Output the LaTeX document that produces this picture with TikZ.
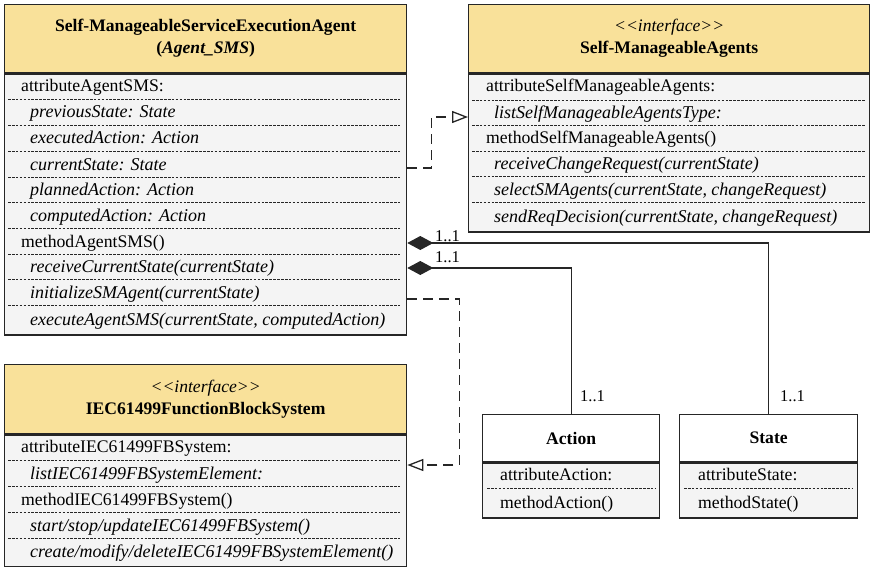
\documentclass[tikz,border=0pt]{standalone}
\usepackage{fontspec}
\setmainfont{Liberation Serif}
\usetikzlibrary{arrows.meta,calc}
\definecolor{hdrfill}{HTML}{F9E19A}
\definecolor{bodyfill}{HTML}{F4F4F4}
\definecolor{edge}{HTML}{262626}
\tikzset{
  hdr/.style={draw=edge, line width=1.3pt, fill=hdrfill, anchor=north west, inner sep=0pt,
    align=center, font=\fontsize{17.6}{22}\selectfont},
  plainhdr/.style={hdr, fill=white},
  bodybox/.style={draw=edge, line width=1.3pt, fill=bodyfill, anchor=north west, inner sep=0pt},
  row/.style={anchor=west, inner sep=0pt, font=\fontsize{17.7}{21}\selectfont,
    text height=14pt, text depth=2pt},
  irow/.style={row, font=\fontsize{18}{21}\selectfont\itshape},
  sep/.style={draw=edge, line width=0.8pt, dash pattern=on 2.6pt off 1.3pt},
  comp/.style={draw=edge, line width=1.2pt, {Diamond[length=26pt,width=14pt]}-},
  real/.style={draw=edge, line width=1.3pt, dash pattern=on 10pt off 6pt,
    -{Triangle[open,length=16pt,width=12pt,fill=white]}},
  mult/.style={inner sep=0pt, anchor=west, font=\fontsize{16.5}{20}\selectfont},
}
\begin{document}
\begin{tikzpicture}[x=1pt,y=-1pt]
\useasboundingbox (0,0) rectangle (870,567);

% ---------- Self-ManageableServiceExecutionAgent ----------
\node[hdr, minimum width=402pt, minimum height=68pt] (agentH) at (4,4)
  {\textbf{Self-ManageableServiceExecutionAgent}\\\textbf{(\textit{Agent\_SMS})}};
\node[bodybox, minimum width=402pt, minimum height=261pt] (agentB) at (agentH.south west) {};
\foreach \y in {99,125,151,177,202,228,254,279,305}
  \draw[sep] (8,\y) -- (400,\y);
\node[row]  (agentR1)  at (21,85.5) {attributeAgentSMS:};
\node[irow] (agentR2)  at (30,112)  {previousState: State};
\node[irow] (agentR3)  at (30,138)  {executedAction: Action};
\node[irow] (agentR4)  at (30,164)  {currentState: State};
\node[irow] (agentR5)  at (30,189.5){plannedAction: Action};
\node[irow] (agentR6)  at (30,215)  {computedAction: Action};
\node[row]  (agentR7)  at (21,241)  {methodAgentSMS()};
\node[irow] (agentR8)  at (30,266.5){receiveCurrentState(currentState)};
\node[irow] (agentR9)  at (30,292)  {initializeSMAgent(currentState)};
\node[irow] (agentR10) at (30,319)  {executeAgentSMS(currentState, computedAction)};

% ---------- Self-ManageableAgents ----------
\node[hdr, minimum width=401pt, minimum height=68pt] (smaH) at (468,4)
  {\textit{<{}<interface>{}>}\\\textbf{Self-ManageableAgents}};
\node[bodybox, minimum width=401pt, minimum height=158pt] (smaB) at (smaH.south west) {};
\foreach \y in {100,125,151,176,202}
  \draw[sep] (472,\y) -- (865,\y);
\node[row]  (smaR1) at (486,86)    {attributeSelfManageableAgents:};
\node[irow] (smaR2) at (494,112.5) {listSelfManageableAgentsType:};
\node[row]  (smaR3) at (486,138)   {methodSelfManageableAgents()};
\node[irow] (smaR4) at (494,163.5) {receiveChangeRequest(currentState)};
\node[irow] (smaR5) at (494,189)   {selectSMAgents(currentState, changeRequest)};
\node[irow] (smaR6) at (494,216)   {sendReqDecision(currentState, changeRequest)};

% ---------- IEC61499FunctionBlockSystem ----------
\node[hdr, minimum width=402pt, minimum height=69pt] (iecH) at (4,364)
  {\textit{<{}<interface>{}>}\\\textbf{IEC61499FunctionBlockSystem}};
\node[bodybox, minimum width=402pt, minimum height=132pt] (iecB) at (iecH.south west) {};
\foreach \y in {460,486,512,538}
  \draw[sep] (8,\y) -- (400,\y);
\node[row]  (iecR1) at (21,446.5) {attributeIEC61499FBSystem:};
\node[irow] (iecR2) at (30,473)   {listIEC61499FBSystemElement:};
\node[row]  (iecR3) at (21,499)   {methodIEC61499FBSystem()};
\node[irow] (iecR4) at (30,525)   {start/stop/updateIEC61499FBSystem()};
\node[irow] (iecR5) at (30,551.5) {create/modify/deleteIEC61499FBSystemElement()};

% ---------- Action ----------
\node[plainhdr, minimum width=177pt, minimum height=47pt] (actH) at (482,414) {\textbf{Action}};
\node[bodybox, minimum width=177pt, minimum height=55pt] (actB) at (actH.south west) {};
\draw[sep] (487,488) -- (655,488);
\node[row] (actR1) at (500,474.5) {attributeAction:};
\node[row] (actR2) at (500,502)   {methodAction()};

% ---------- State ----------
\node[plainhdr, minimum width=178pt, minimum height=47pt] (stH) at (679,414) {\textbf{State}};
\node[bodybox, minimum width=178pt, minimum height=55pt] (stB) at (stH.south west) {};
\draw[sep] (684,488) -- (853,488);
\node[row] (stR1) at (698,474.5) {attributeState:};
\node[row] (stR2) at (698,502)   {methodState()};

% ---------- connectors ----------
\draw[real] ($(agentB.east |- agentR4.center)+(0,4)$) -- ++(24,0)
  |- ($(smaB.west |- smaR2.center)+(0,4.5)$);
\draw[real] ($(agentB.east |- agentR9.center)+(0,7)$) -- ++(52,0)
  |- ($(iecB.east |- iecR2.center)+(0,-8)$);
\draw[comp] ($(agentB.east |- agentR7.center)+(0,2)$) -| (stH.north);
\draw[comp] ($(agentB.east |- agentR8.center)+(0,1.5)$) -| (actH.north);

% multiplicities
\node[mult] (m1) at (435,236) {1..1};
\node[mult] (m2) at (435,257) {1..1};
\node[mult] (m3) at (580,396) {1..1};
\node[mult] (m4) at (780,396) {1..1};
\end{tikzpicture}
\end{document}
